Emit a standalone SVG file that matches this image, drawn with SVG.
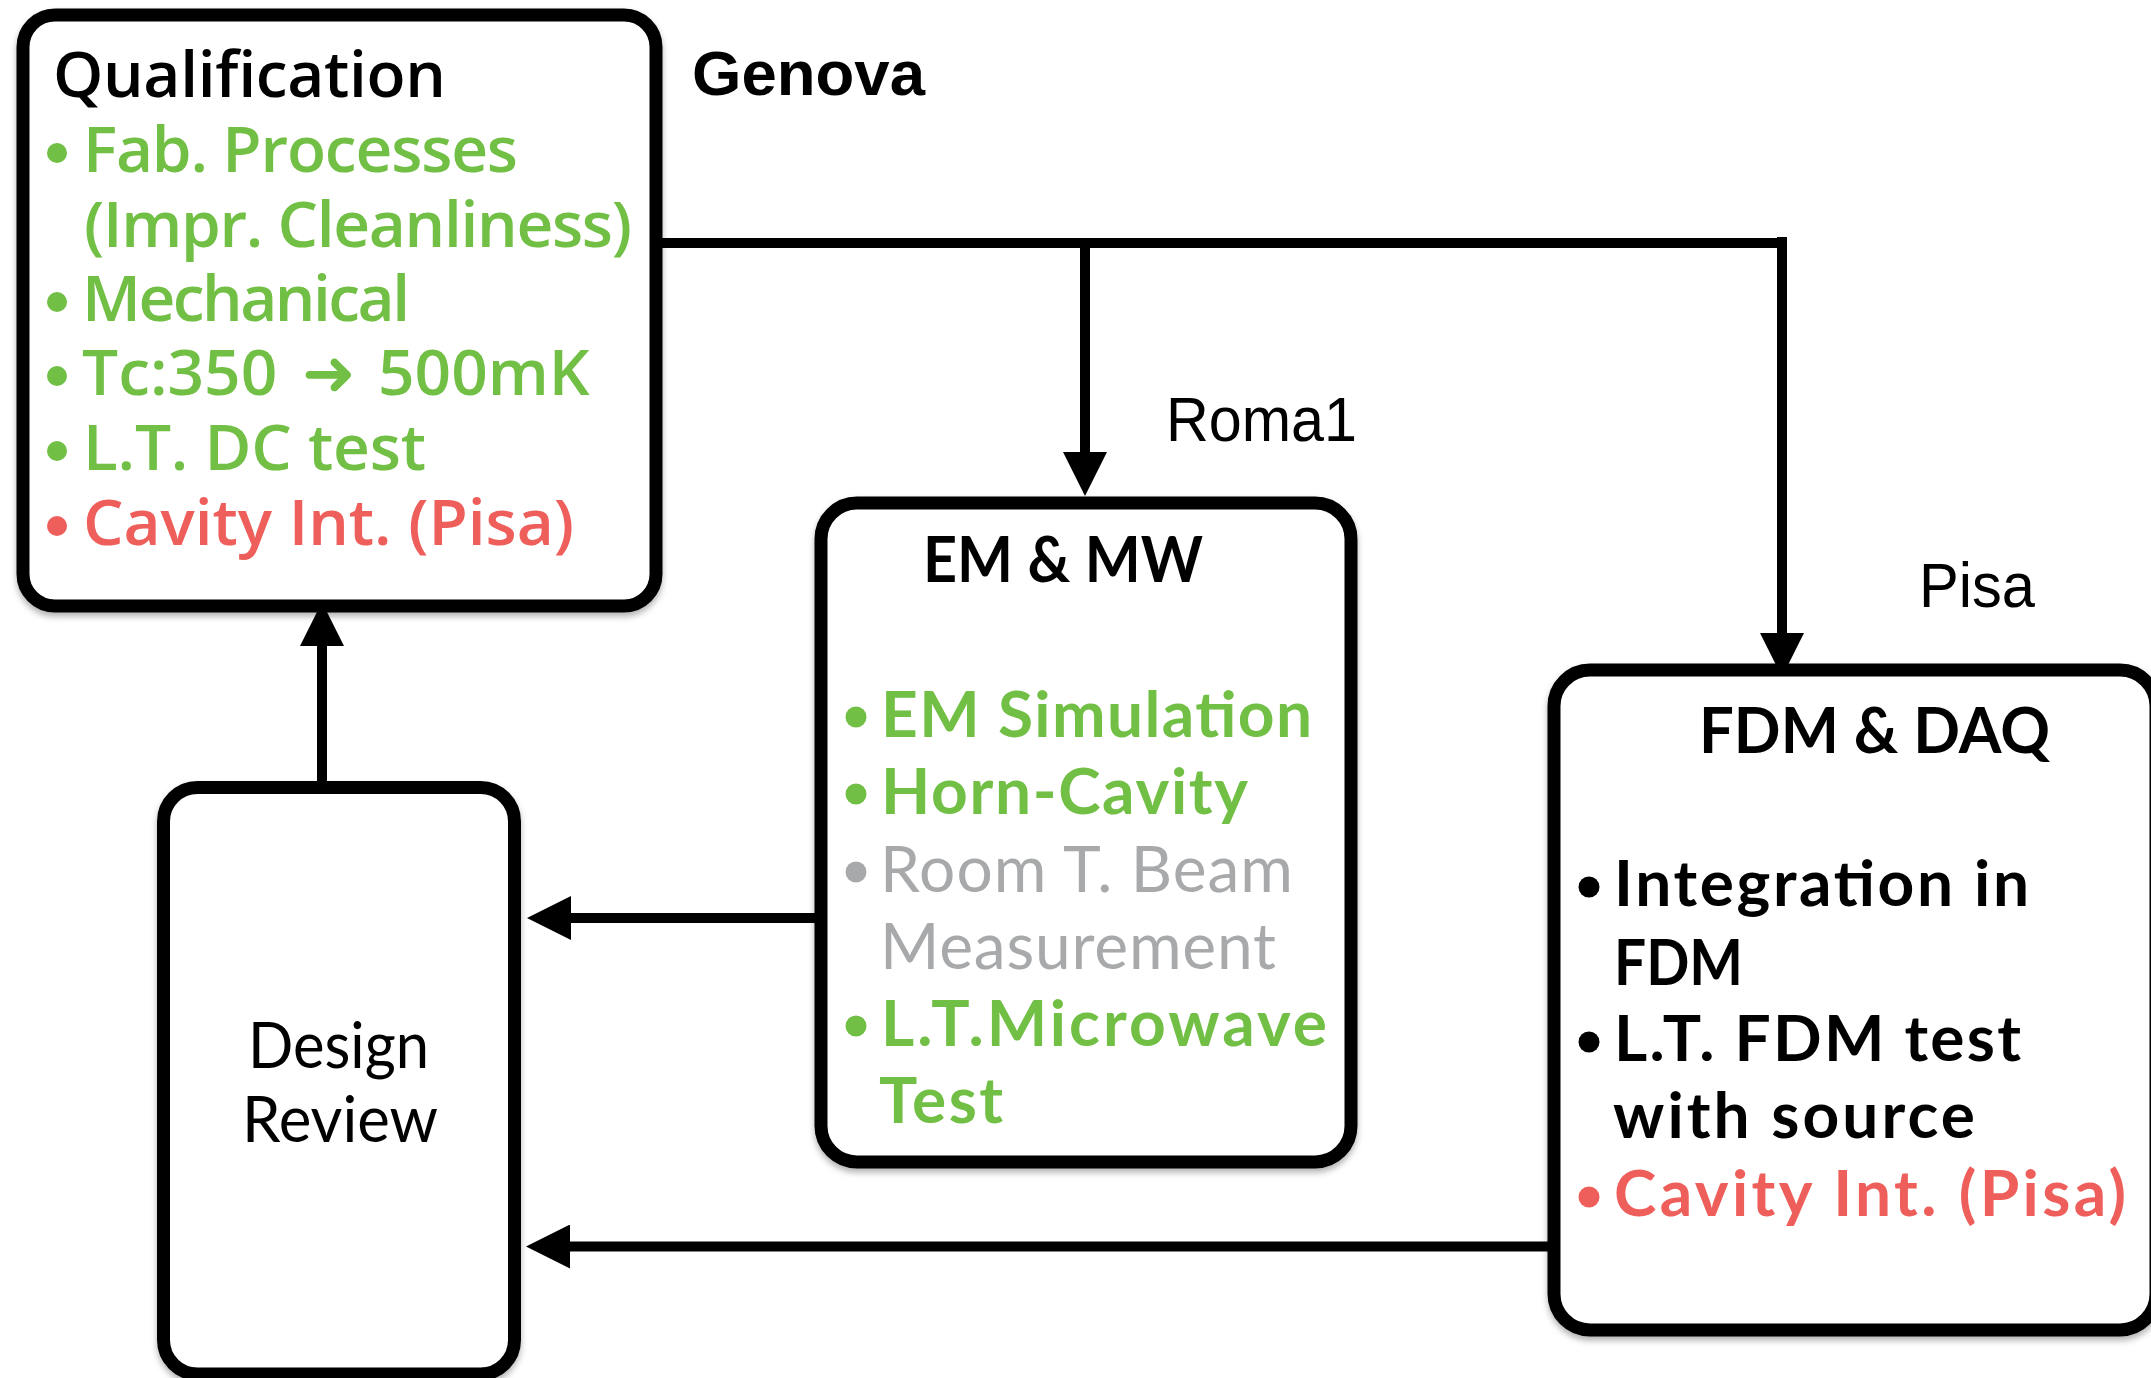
<svg xmlns="http://www.w3.org/2000/svg" width="2151" height="1378" viewBox="0 0 2151 1378">
  <defs>
    <style>
      .box { fill: #ffffff; stroke: #000000; stroke-width: 13; filter: url(#shadow); }
      .wire { fill: none; stroke: #000000; stroke-width: 10; }
      .q { font-family: "Open Sans", "DejaVu Sans", sans-serif; font-size: 64px; font-weight: 600; }
      .b { font-family: Lato, "Open Sans", sans-serif; font-size: 64px; font-weight: 700; }
      .n { font-family: Lato, "Open Sans", sans-serif; font-size: 64px; font-weight: 400; }
      .site { font-family: "Liberation Sans", Arial, Helvetica, sans-serif; font-size: 63px; }
      .k { fill: #000000; }
      .g { fill: #71BF44; }
      .r { fill: #EE5F5B; }
      .gr { fill: #A7A9AB; }
    </style>
    <filter id="shadow" x="-10%" y="-10%" width="120%" height="120%">
      <feDropShadow dx="0" dy="4" stdDeviation="3" flood-color="#000000" flood-opacity="0.3"/>
    </filter>
    <marker id="head" markerUnits="userSpaceOnUse" viewBox="0 0 44 44" refX="0" refY="22" markerWidth="44" markerHeight="44" orient="auto">
      <path d="M0,0 L44,22 L0,44 Z" fill="#000000"/>
    </marker>
  </defs>

  <rect width="2151" height="1378" fill="#ffffff"/>

  <!-- connectors -->
  <g id="connectors">
    <path class="wire" d="M656,243 H1787" stroke-width="12"/>
    <path class="wire" d="M1782,237 V633" marker-end="url(#head)"/>
    <path class="wire" d="M1085,243 V452" marker-end="url(#head)"/>
    <path class="wire" d="M830,918 H571" marker-end="url(#head)"/>
    <path class="wire" d="M1562,1246.5 H570" marker-end="url(#head)"/>
    <path class="wire" d="M322,787 V646" marker-end="url(#head)"/>
  </g>

  <!-- site labels -->
  <g id="labels">
    <text class="site" x="692" y="95" font-size="65" font-weight="700" textLength="233" lengthAdjust="spacingAndGlyphs">Genova</text>
    <text class="site" x="1166" y="441" textLength="191" lengthAdjust="spacingAndGlyphs">Roma1</text>
    <text class="site" x="1919" y="607" font-size="64" textLength="116" lengthAdjust="spacingAndGlyphs">Pisa</text>
  </g>

  <!-- Qualification -->
  <g id="qualification">
    <rect class="box" x="23" y="15" width="633" height="591" rx="32"/>
    <text class="q k" x="53" y="97" textLength="393">Qualification</text>
    <circle class="g" cx="57" cy="153" r="10"/>
    <text class="q g" x="83" y="172" textLength="435">Fab. Processes</text>
    <text class="q g" x="84" y="247" textLength="548">(Impr. Cleanliness)</text>
    <circle class="g" cx="57" cy="302" r="10"/>
    <text class="q g" x="82" y="321" textLength="328">Mechanical</text>
    <circle class="g" cx="57" cy="376" r="10"/>
    <text class="q g" y="395"><tspan x="82">Tc:350</tspan><tspan x="302" font-family="'DejaVu Sans', sans-serif" font-weight="700">➜</tspan><tspan x="378">500mK</tspan></text>
    <circle class="g" cx="57" cy="451" r="10"/>
    <text class="q g" x="83" y="470" textLength="343">L.T. DC test</text>
    <circle class="r" cx="57" cy="526" r="10"/>
    <text class="q r" x="83" y="545" textLength="491">Cavity Int. (Pisa)</text>
  </g>

  <!-- EM & MW -->
  <g id="em-mw">
    <rect class="box" x="821" y="503" width="530" height="659" rx="36"/>
    <text class="b k" x="923" y="582" textLength="280" lengthAdjust="spacingAndGlyphs">EM &amp; MW</text>
    <circle class="g" cx="856" cy="717" r="10.5"/>
    <text class="b g" x="881" y="737" textLength="431">EM Simulation</text>
    <circle class="g" cx="856" cy="794" r="10.5"/>
    <text class="b g" x="881" y="814" textLength="367">Horn-Cavity</text>
    <circle class="gr" cx="856" cy="872" r="10.5"/>
    <text class="n gr" x="880" y="892" textLength="413">Room T. Beam</text>
    <text class="n gr" x="880" y="969" textLength="396">Measurement</text>
    <circle class="g" cx="856" cy="1026" r="10.5"/>
    <text class="b g" x="881" y="1046" textLength="446">L.T.Microwave</text>
    <text class="b g" x="879" y="1123" textLength="124">Test</text>
  </g>

  <!-- FDM & DAQ -->
  <g id="fdm-daq">
    <rect class="box" x="1554" y="670" width="602" height="660" rx="36"/>
    <text class="b k" x="1699" y="753" textLength="351" lengthAdjust="spacingAndGlyphs">FDM &amp; DAQ</text>
    <circle class="k" cx="1589" cy="887" r="10.5"/>
    <text class="b k" x="1614" y="906" textLength="415">Integration in</text>
    <text class="b k" x="1614" y="985" textLength="129" lengthAdjust="spacingAndGlyphs">FDM</text>
    <circle class="k" cx="1589" cy="1042" r="10.5"/>
    <text class="b k" x="1614" y="1061" textLength="407">L.T. FDM test</text>
    <text class="b k" x="1613" y="1138" textLength="362">with source</text>
    <circle class="r" cx="1589" cy="1197" r="10.5"/>
    <text class="b r" x="1614" y="1216" textLength="512">Cavity Int. (Pisa)</text>
  </g>

  <!-- Design Review -->
  <g id="design-review">
    <rect class="box" x="163.5" y="787.5" width="351" height="586.5" rx="34"/>
    <text class="n k" x="248" y="1068" font-size="63" textLength="181" lengthAdjust="spacingAndGlyphs">Design</text>
    <text class="n k" x="242" y="1142" font-size="63" textLength="196" lengthAdjust="spacingAndGlyphs">Review</text>
  </g>
</svg>
